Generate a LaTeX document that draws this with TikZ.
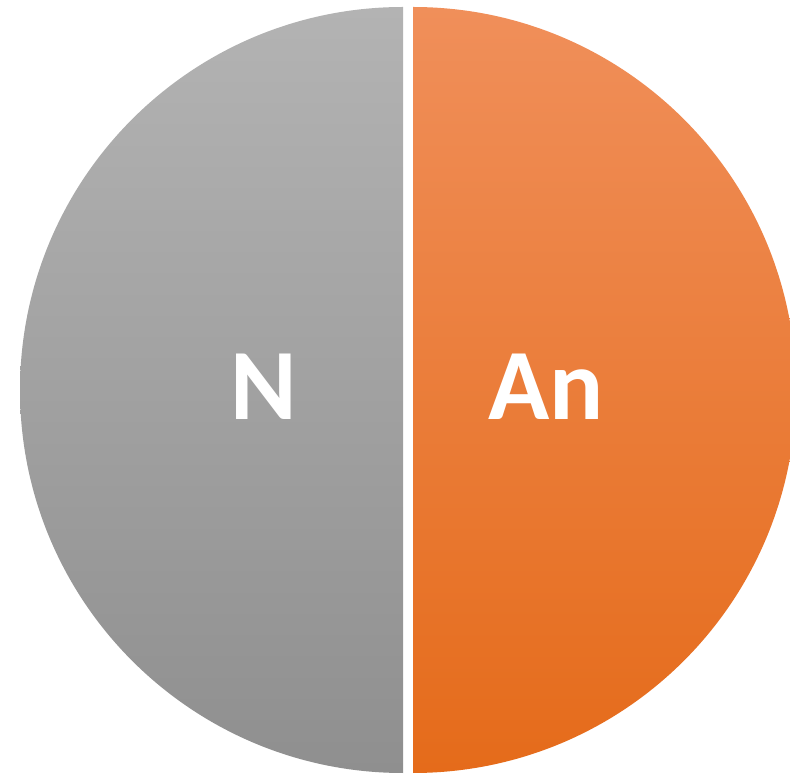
\documentclass[tikz,border=0pt]{standalone}
\usepackage{fontspec}
\setmainfont{Carlito}
\usepackage{xcolor}
\usepackage{tikz}
\definecolor{greytop}{HTML}{B3B3B3}
\definecolor{greymid}{HTML}{A5A5A5}
\definecolor{greybot}{HTML}{8F8F8F}
\definecolor{orangetop}{HTML}{F08F5A}
\definecolor{orangemid}{HTML}{F47E2D}
\definecolor{orangebot}{HTML}{E56B1A}

\begin{document}
\begin{tikzpicture}[
    x=1pt, y=1pt,
    halfgrey/.style={top color=greytop, middle color=greymid, bottom color=greybot, draw=none},
    halforange/.style={top color=orangetop, middle color=orangemid, bottom color=orangebot, draw=none},
    lbl/.style={text=white, font=\fontsize{101}{101}\selectfont\bfseries, inner sep=0pt, anchor=base}
]
    \useasboundingbox (0,0) rectangle (790,774);
    \clip (0,0) rectangle (790,774);
    % two halves of the pie
    \path[halfgrey] (403,767) arc[start angle=90, end angle=270, radius=383] -- cycle;
    \path[halforange] (413,1) arc[start angle=-90, end angle=90, radius=383] -- cycle;

    \node[lbl] (n) at (264,354) {N};
    \node[lbl] (an) at (546,354) {An};
\end{tikzpicture}
\end{document}
